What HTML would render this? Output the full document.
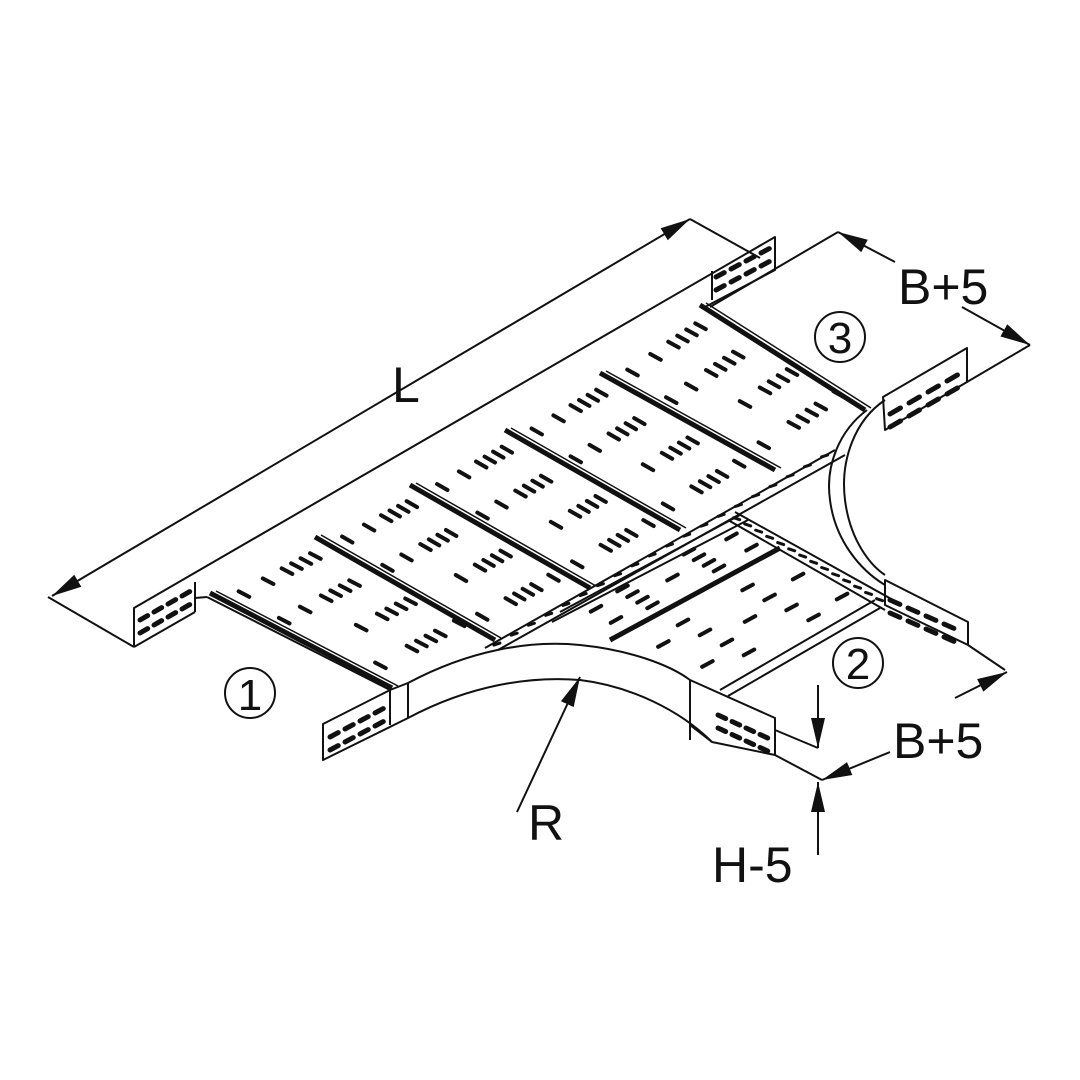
<!DOCTYPE html>
<html><head><meta charset="utf-8"><style>
html,body{margin:0;padding:0;background:#fff}
svg{display:block}
text{font-family:"Liberation Sans",sans-serif;fill:#111}
</style></head><body>
<svg id="s" width="1080" height="1080" viewBox="0 0 1080 1080" xmlns="http://www.w3.org/2000/svg">
<defs>
<marker id="a" viewBox="0 0 30 14" refX="30" refY="7" markerWidth="30" markerHeight="14" orient="auto-start-reverse" markerUnits="userSpaceOnUse"><path d="M0,0 L30,7 L0,14 z" fill="#111"/></marker>
</defs>
<g fill="none" stroke="#111" stroke-width="2" stroke-linejoin="round">
<line x1="52" y1="596" x2="690" y2="219" marker-start="url(#a)" marker-end="url(#a)"/>
<line x1="48" y1="597" x2="134" y2="647"/>
<line x1="690" y1="219" x2="760" y2="258"/>
<polyline points="134,647 134,608 775,237 775,270 705,307"/>
<polyline points="195,582 195,612"/>
<line x1="195" y1="612" x2="134" y2="647"/>
<line x1="712" y1="271" x2="712" y2="300"/>
<line x1="195" y1="598" x2="207" y2="597"/>
<line x1="207" y1="597" x2="390" y2="690"/>
<polygon points="323,724 390,690 408,683 408,718 323,760"/>
<line x1="390" y1="690" x2="390" y2="725"/>
<path d="M408,683 C470,650 530,640 580,645 C630,650 670,665 690,680"/>
<path d="M408,718 C470,685 530,676 580,680 C630,686 680,710 712,742"/>
<polygon points="690,680 775,718 775,755 712,742 690,725"/>
<line x1="690" y1="680" x2="690" y2="740"/>
<line x1="775" y1="730" x2="818" y2="748"/>
<line x1="775" y1="755" x2="822" y2="780"/>
<line x1="720" y1="690" x2="875" y2="600"/>
<line x1="728" y1="696" x2="880" y2="608"/>
<polygon points="885,580 968,622 968,645 885,605"/>
<line x1="968" y1="645" x2="1005" y2="670"/>
<path d="M867,410 C840,430 825,465 830,500 C835,540 860,570 885,585"/>
<path d="M885,400 C855,420 840,460 845,500 C850,540 870,565 885,575"/>
<polygon points="883,397 967,348 967,382 885,430"/>
<line x1="967" y1="382" x2="1030" y2="345"/>
<polyline points="710,307 838,232"/>
<line x1="895" y1="262" x2="838" y2="232" marker-end="url(#a)"/>
<line x1="962" y1="307" x2="1030" y2="345" marker-end="url(#a)"/>
<path d="M485,648 L835,450 M498,650 L845,455"/>
<path d="M560,612 L740,515 M552,622 L748,520"/>
<path d="M735,512 L893,600 M728,520 L885,610"/>
<line x1="890" y1="752" x2="822" y2="780" marker-end="url(#a)"/>
<line x1="955" y1="698" x2="1007" y2="672" marker-end="url(#a)"/>
<line x1="818" y1="685" x2="818" y2="748" marker-end="url(#a)"/>
<line x1="818" y1="855" x2="818" y2="782" marker-end="url(#a)"/>
<line x1="517" y1="812" x2="580" y2="677" marker-end="url(#a)"/>
<circle cx="250" cy="693" r="25"/>
<circle cx="840" cy="337" r="25"/>
<circle cx="858" cy="663" r="25"/>
</g>
<g id="rails" stroke="#111" fill="none"></g>
<g id="slots" stroke="#111" stroke-width="4" stroke-linecap="round"></g>
<text x="392" y="402" font-size="50">L</text>
<text x="898" y="304" font-size="50">B+5</text>
<text x="893" y="758" font-size="50">B+5</text>
<text x="528" y="840" font-size="50">R</text>
<text x="712" y="882" font-size="50">H-5</text>
<text x="250" y="710" font-size="44" text-anchor="middle">1</text>
<text x="840" y="353" font-size="44" text-anchor="middle">3</text>
<text x="858" y="679" font-size="44" text-anchor="middle">2</text>
</svg>
<script>
var NS="http://www.w3.org/2000/svg";
function el(g,t,a){var e=document.createElementNS(NS,t);for(var k in a)e.setAttribute(k,a[k]);document.getElementById(g).appendChild(e);return e;}
var rails=[[210,593,392,688],[315,537,495,640],[410,485,590,588],[505,430,680,530],[600,373,775,470],[700,305,865,410]];
rails.forEach(function(r){el("rails","line",{x1:r[0],y1:r[1],x2:r[2],y2:r[3],"stroke-width":5});
 el("rails","line",{x1:r[0]+6,y1:r[1]-2,x2:r[2]+6,y2:r[3]-2,"stroke-width":1.5});});
el("rails","line",{x1:610,y1:640,x2:780,y2:548,"stroke-width":5});
var rows=[[0.1,[0.15,0.38,0.56,0.65,0.74,0.83]],[0.35,[0.1,0.3,0.5,0.59,0.68,0.77]],[0.6,[0.4,0.6,0.69,0.78,0.87]],[0.85,[0.15,0.45,0.54,0.63,0.72,0.9]]];
function panel(a,b,len,rs){
 var vx=a[2]-a[0],vy=a[3]-a[1],L=Math.hypot(vx,vy),ux=vx/L*len,uy=vy/L*len;
 rs.forEach(function(r){r[1].forEach(function(f){var t=r[0];
  var x=a[0]+(b[0]-a[0])*f+vx*t, y=a[1]+(b[1]-a[1])*f+vy*t;
  el("slots","line",{x1:x-ux,y1:y-uy,x2:x+ux,y2:y+uy});});});
}
for(var i=0;i<rails.length-1;i++)panel(rails[i],rails[i+1],6,rows);
var rows2=[[0.12,[0.3,0.7]],[0.3,[0.2,0.4,0.6,0.8]],[0.5,[0.5]],[0.68,[0.2,0.4,0.6,0.8]],[0.88,[0.35,0.75]]];
var r2=[[560,612,735,515],[610,640,780,548],[720,690,875,600]];
for(var i=0;i<2;i++)panel(r2[i],r2[i+1],6,rows2);
for(var t=0.02;t<1;t+=0.05){el("slots","line",{x1:490+345*t-3,y1:648-198*t+1,x2:490+345*t+3,y2:648-198*t-1,"stroke-width":3});}
for(var t=0.03;t<1;t+=0.07){el("slots","line",{x1:732+157*t-3,y1:516+89*t-1,x2:732+157*t+3,y2:516+89*t+1,"stroke-width":3});}
function holes(x0,y0,dx,dy){for(var r=0;r<2;r++)for(var c=0;c<4;c++){var x=x0+c*dx,y=y0+c*dy+r*13;
 el("slots","line",{x1:x,y1:y,x2:x+dx*0.55,y2:y+dy*0.55,"stroke-width":5});}}
holes(140,620,14,-8);
holes(330,737,15,-8);
holes(718,715,14,6.5);
holes(890,600,18,8);
holes(890,414,19,-11);
holes(716,277,15,-8);
</script>
</body></html>
